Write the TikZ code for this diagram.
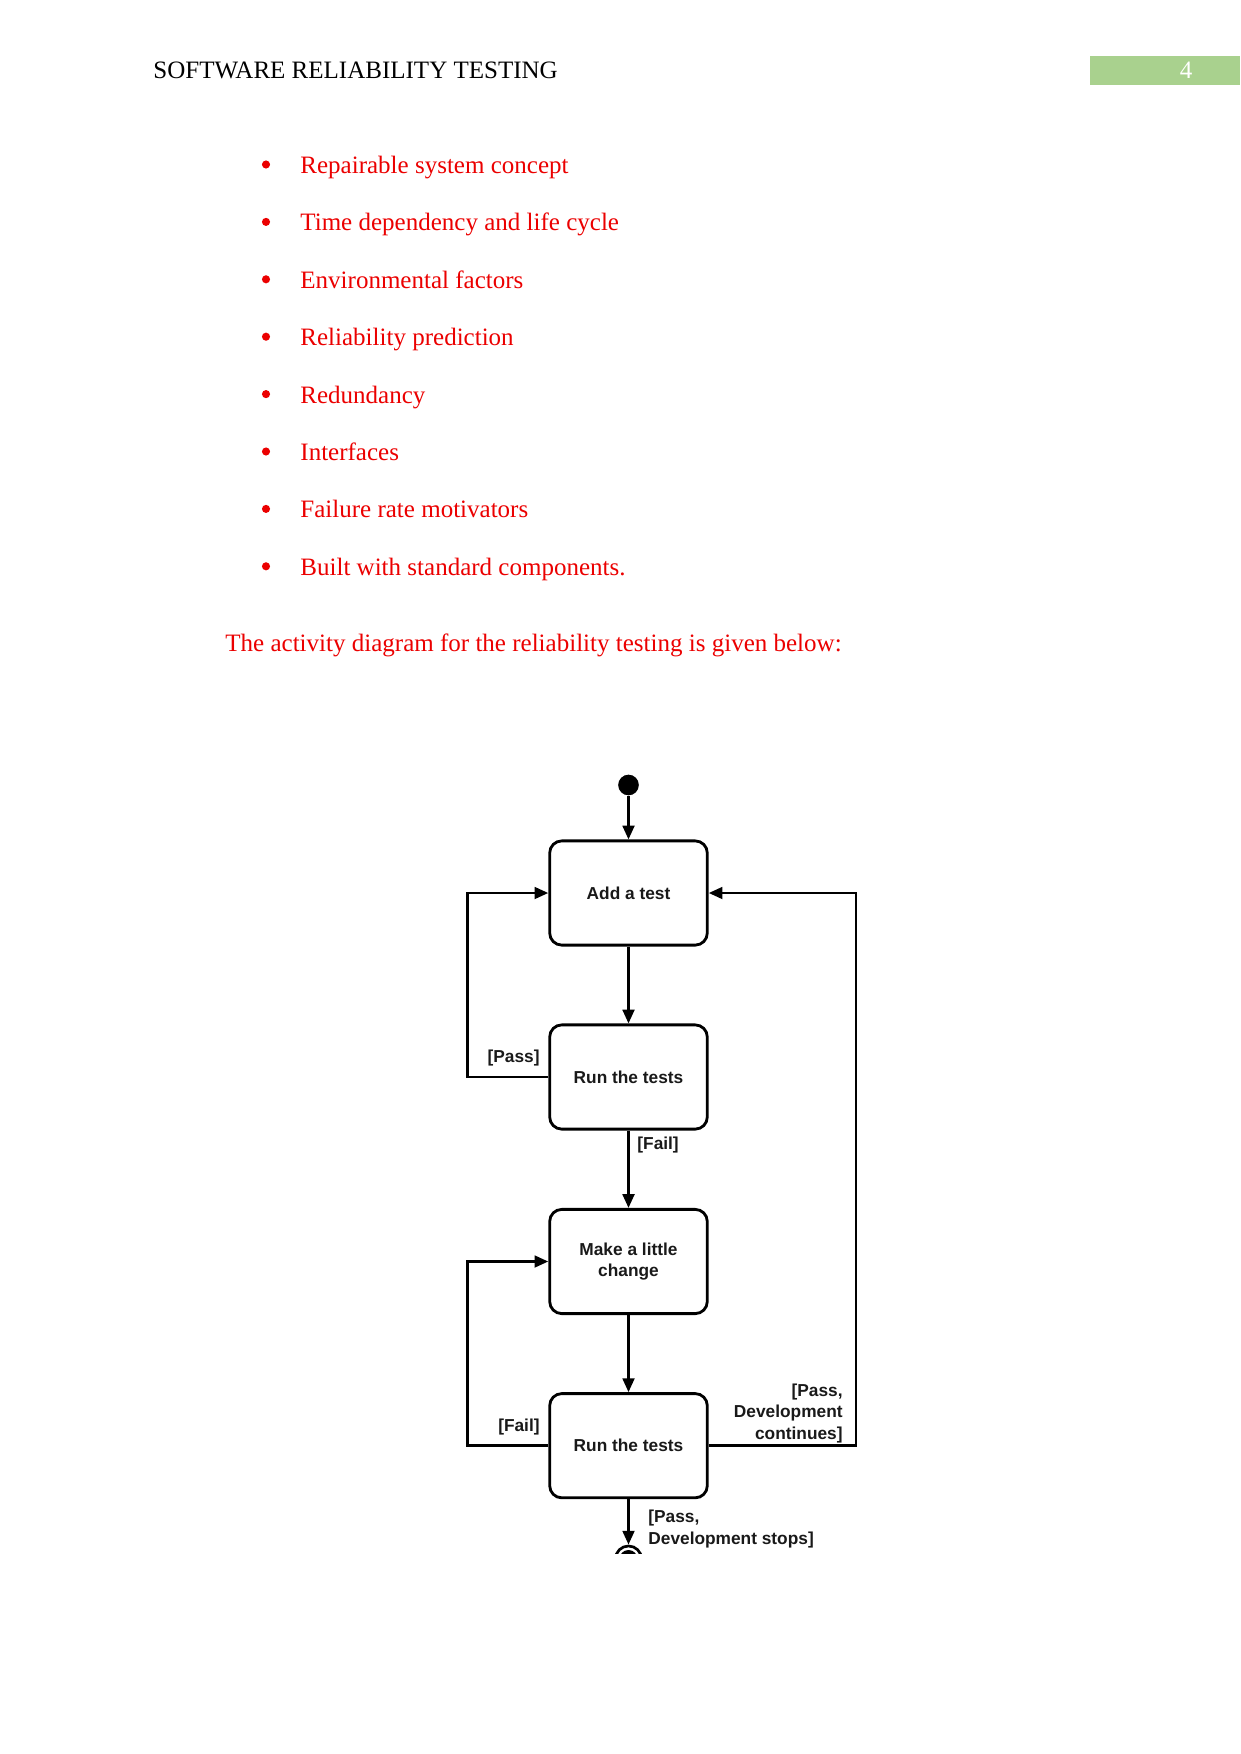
\documentclass[tikz,border=0pt]{standalone}
\usepackage{fontspec}
\setmainfont{Liberation Serif}
\newfontfamily\dfont{Liberation Sans}
\usetikzlibrary{arrows.meta}
\definecolor{txtred}{RGB}{235,0,0}
\definecolor{pagegreen}{RGB}{169,209,142}
\definecolor{dtext}{RGB}{25,25,25}
\tikzset{
  bodytext/.style={anchor=base west, inner sep=0pt, text=txtred, font=\fontsize{12}{14}\selectfont},
  bulletdot/.style={circle, fill=txtred, inner sep=0pt, minimum size=3.9pt},
  actbox/.style={draw, line width=1.35pt, rounded corners=5.8pt, minimum width=75.6pt, minimum height=50pt, inner sep=0pt, align=center, text=dtext, font=\dfont\bfseries\fontsize{8.3}{10.4}\selectfont},
  guard/.style={inner sep=0pt, text=dtext, font=\dfont\bfseries\fontsize{8.3}{10.1}\selectfont},
  flow/.style={line width=1.3pt, -{Triangle[length=6.6pt,width=5.6pt]}},
  loop/.style={line width=1.3pt, -{Triangle[length=6.6pt,width=5.6pt]}},
}
\begin{document}
\begin{tikzpicture}[x=0.4797pt, y=-0.4797pt]
\useasboundingbox (0,0) rectangle (1241,1754);
% header
\node[anchor=base west, inner sep=0pt, font=\fontsize{12}{14}\selectfont] (head) at (153,79) {SOFTWARE RELIABILITY TESTING};
\fill[pagegreen] (1090,56) rectangle (1240,85);
\node[anchor=base, inner sep=0pt, text=white, font=\fontsize{12}{14}\selectfont] (pnum) at (1186,79) {4};
% bullets
\foreach \t [count=\i from 0] in {Repairable system concept, Time dependency and life cycle, Environmental factors, Reliability prediction, Redundancy, Interfaces, Failure rate motivators, Built with standard components.}{
  \node[bulletdot] (b\i) at (266,{164.5+57.4*\i}) {};
  \node[bodytext] (t\i) at (300,{173.5+57.4*\i}) {\t};
}
\node[bodytext] (intro) at (225,651) {The activity diagram for the reliability testing is given below:};
% diagram
\coordinate (L) at (467.7,0);
\coordinate (R) at (856,0);
\node[circle, fill=black, inner sep=0pt, minimum size=9.9pt] (start) at (628.5,785) {};
\node[actbox] (add) at (628.5,893) {Add a test};
\node[actbox] (run1) at (628.5,1077) {Run the tests};
\node[actbox] (change) at (628.5,1261.5) {Make a little\\change};
\node[actbox] (run2) at (628.5,1445.7) {Run the tests};
\begin{scope}
  \clip (560,1530) rectangle (700,1553);
  \node[circle, draw, line width=1.3pt, inner sep=0pt, minimum size=12.5pt] (final) at (628.5,1559) {};
  \fill (final.center) circle (9);
\end{scope}
\draw[flow] (start) -- (add);
\draw[flow] (add) -- (run1);
\draw[flow] (run1) -- (change);
\draw[flow] (change) -- (run2);
\draw[flow] (run2) -- (final);
\draw[loop] (run1.west) -- (run1.west -| L) |- (add.west);
\draw[loop] (run2.west) -- (run2.west -| L) |- (change.west);
\draw[loop] (run2.east) -- (run2.east -| R) |- (add.east);
% guards
\node[guard, anchor=east] (g1) at (540,1058) {[Pass]};
\node[guard, anchor=west] (g2) at (637,1145) {[Fail]};
\node[guard, anchor=east] (g3) at (540,1427) {[Fail]};
\node[guard, anchor=east, align=right] (g4) at (843,1413.5) {[Pass,\\Development\\continues]};
\node[guard, anchor=west, align=left] (g5) at (648,1529) {[Pass,\\Development stops]};
\end{tikzpicture}
\end{document}
